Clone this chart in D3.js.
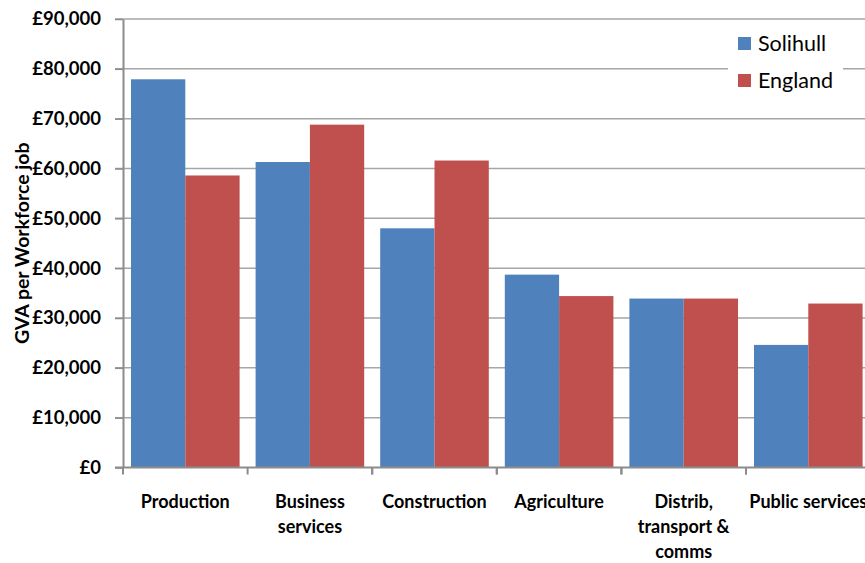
<!DOCTYPE html>
<html>
<head>
<meta charset="utf-8">
<script src="https://cdn.jsdelivr.net/npm/d3@7/dist/d3.min.js"></script>
<style>
  html, body { margin: 0; padding: 0; background: #fff; overflow: hidden; }
  svg { display: block; font-family: Lato, "Open Sans", sans-serif; }
</style>
</head>
<body>
<svg id="chart" width="865" height="563"></svg>
<script>
// GVA per workforce job by sector
const categories = ["Production", "Business services", "Construction", "Agriculture", "Distrib, transport & comms", "Public services"];
const categoryLines = [["Production"], ["Business", "services"], ["Construction"], ["Agriculture"], ["Distrib,", "transport &", "comms"], ["Public services"]];
const seriesNames = ["Solihull", "England"];
const solihull = [77900, 61300, 48000, 38700, 33900, 24600];
const england = [58600, 68800, 61600, 34400, 33900, 32900];
const yTicks = [0, 10000, 20000, 30000, 40000, 50000, 60000, 70000, 80000, 90000];
const colors = ["#4F81BD", "#C0504D"];

const svg = d3.select("#chart");
const W = 865;
const plot = { left: 123, top: 19, bottom: 467.5, right: 870.6 };

const y = d3.scaleLinear().domain([0, 90000]).range([plot.bottom, plot.top]);
const x0 = d3.scaleBand().domain(categories).range([plot.left, plot.right]).padding(0);
const x1 = d3.scaleBand().domain(seriesNames).range([8, x0.bandwidth() - 8]).padding(0);

// horizontal gridlines
svg.append("g")
  .selectAll("line")
  .data(yTicks.filter(d => d > 0))
  .join("line")
  .attr("x1", plot.left - 8).attr("x2", W)
  .attr("y1", d => y(d)).attr("y2", d => y(d))
  .attr("stroke", "#A6A6A6").attr("stroke-width", 1.5);

// bars
const rows = categories.map((c, i) => ({ cat: c, values: [solihull[i], england[i]] }));
svg.append("g")
  .selectAll("g")
  .data(rows)
  .join("g")
  .attr("transform", d => `translate(${x0(d.cat)},0)`)
  .selectAll("rect")
  .data(d => d.values.map((v, j) => ({ name: seriesNames[j], v, j })))
  .join("rect")
  .attr("x", d => x1(d.name))
  .attr("width", x1.bandwidth())
  .attr("y", d => y(d.v))
  .attr("height", d => plot.bottom - y(d.v))
  .attr("fill", d => colors[d.j]);

// y axis
const yAxis = svg.append("g")
  .attr("transform", `translate(${plot.left},0)`)
  .call(d3.axisLeft(y).tickValues(yTicks).tickSize(8).tickSizeOuter(0).tickPadding(14)
    .tickFormat(d => "£" + d3.format(",")(d)));
yAxis.select(".domain").attr("stroke", "#8C8C8C").attr("stroke-width", 2);
yAxis.selectAll(".tick line").attr("stroke", "#8C8C8C").attr("stroke-width", 1.5);
yAxis.selectAll(".tick text")
  .attr("font-size", 18.5).attr("font-weight", "bold").attr("fill", "#000")
  .attr("font-family", "Lato, sans-serif");

// x axis
const xAxis = svg.append("g").attr("transform", `translate(0,${plot.bottom})`);
xAxis.append("line")
  .attr("x1", plot.left - 8).attr("x2", W)
  .attr("stroke", "#8C8C8C").attr("stroke-width", 2);
xAxis.selectAll("line.tk")
  .data(categories)
  .join("line").attr("class", "tk")
  .attr("x1", d => x0(d)).attr("x2", d => x0(d))
  .attr("y1", 0).attr("y2", 7)
  .attr("stroke", "#8C8C8C").attr("stroke-width", 2);
xAxis.selectAll("line.tk2")
  .data(categories.slice(1))
  .join("line").attr("class", "tk2")
  .attr("x1", d => x0(d) + x0.bandwidth()).attr("x2", d => x0(d) + x0.bandwidth())
  .attr("y1", 0).attr("y2", 7)
  .attr("stroke", "#8C8C8C").attr("stroke-width", 2);

const labels = xAxis.selectAll("text.cat")
  .data(categories)
  .join("text").attr("class", "cat")
  .attr("x", d => x0(d) + x0.bandwidth() / 2)
  .attr("y", 40)
  .attr("text-anchor", "middle")
  .attr("font-size", 18).attr("font-weight", "bold").attr("fill", "#000");
labels.each(function (d, i) {
  d3.select(this).selectAll("tspan")
    .data(categoryLines[i])
    .join("tspan")
    .attr("x", x0(d) + x0.bandwidth() / 2)
    .attr("dy", (t, k) => k === 0 ? 0 : 25)
    .text(t => t);
});

// y axis title
svg.append("text")
  .attr("transform", `translate(29,${(plot.top + plot.bottom) / 2}) rotate(-90)`)
  .attr("text-anchor", "middle")
  .attr("font-size", 19.5).attr("font-weight", "bold").attr("fill", "#000")
  .text("GVA per Workforce job");

// legend
const legend = svg.append("g");
legend.append("rect")
  .attr("x", 728).attr("y", 25).attr("width", 115).attr("height", 76)
  .attr("fill", "#fff");
const items = legend.selectAll("g.item")
  .data(seriesNames)
  .join("g").attr("class", "item")
  .attr("transform", (d, i) => `translate(738,${37 + i * 37})`);
items.append("rect")
  .attr("width", 13).attr("height", 13)
  .attr("fill", (d, i) => colors[i]);
items.append("text")
  .attr("x", 20).attr("y", 13.5)
  .attr("font-size", 21.5).attr("fill", "#000")
  .text(d => d);
</script>
</body>
</html>
